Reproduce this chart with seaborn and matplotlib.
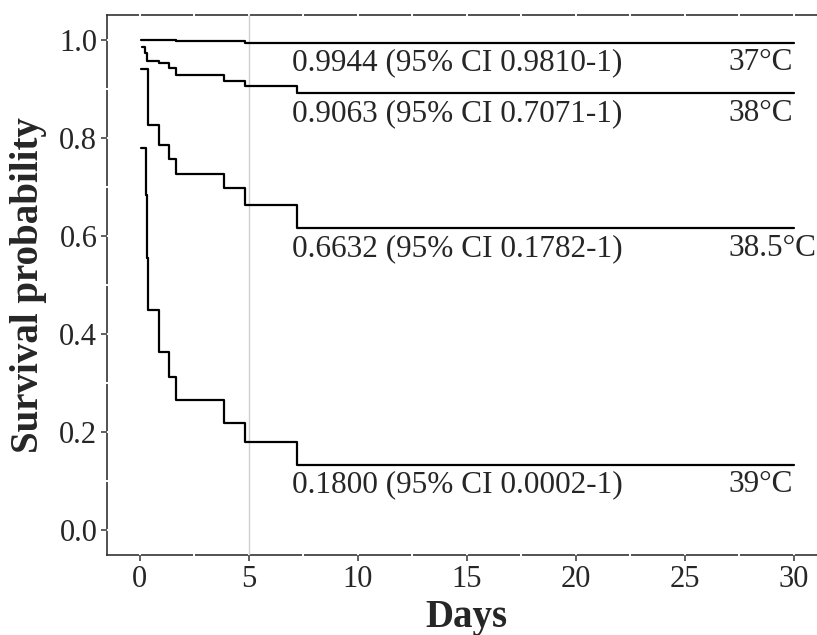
import numpy as np
import pandas as pd
import seaborn as sns
import matplotlib.pyplot as plt

# survival curves (days, survival probability)
t37 = [0.05, 1.67, 4.85, 30]
s37 = [0.999, 0.997, 0.9944, 0.9944]

t38 = [0.1, 0.26, 0.34, 0.87, 1.33, 1.67, 3.85, 4.85, 7.22, 30]
s38 = [0.986, 0.974, 0.957, 0.952, 0.942, 0.928, 0.915, 0.9063, 0.891, 0.891]

t385 = [0.05, 0.36, 0.87, 1.33, 1.67, 3.85, 4.85, 7.22, 30]
s385 = [0.941, 0.827, 0.785, 0.757, 0.727, 0.697, 0.6632, 0.616, 0.616]

t39 = [0.05, 0.3, 0.34, 0.4, 0.87, 1.33, 1.67, 3.85, 4.85, 7.22, 30]
s39 = [0.78, 0.683, 0.555, 0.449, 0.3645, 0.3137, 0.265, 0.22, 0.18, 0.134, 0.134]

temps = ["37°C", "38°C", "38.5°C", "39°C"]
ci_labels = [
    "0.9944 (95% CI 0.9810-1)",
    "0.9063 (95% CI 0.7071-1)",
    "0.6632 (95% CI 0.1782-1)",
    "0.1800 (95% CI 0.0002-1)",
]

curves = [(t37, s37), (t38, s38), (t385, s385), (t39, s39)]
df = pd.concat(
    [pd.DataFrame({"days": t, "surv": s, "temp": temp}) for (t, s), temp in zip(curves, temps)],
    ignore_index=True,
)

sns.set_style("white")
plt.rcParams["font.family"] = ["Liberation Serif", "DejaVu Serif"]

fig = plt.figure(figsize=(8.17, 6.35), dpi=100)
ax = fig.add_axes([0.131, 0.126, 0.8806, 0.850])

sns.lineplot(
    data=df, x="days", y="surv", units="temp", estimator=None,
    drawstyle="steps-post", color="black", lw=1.6, ax=ax, zorder=3, legend=False,
)

ax.set_xlim(-1.5, 31.5)
ax.set_ylim(-0.05, 1.05)

# white grid, only visible where it cuts the axis lines
for xv in np.arange(0, 31, 2.5):
    ax.axvline(xv, ymin=-0.006, ymax=1.006, color="white", lw=1.4, zorder=1, clip_on=False)
for yv in np.arange(0, 1.01, 0.1):
    ax.axhline(yv, xmin=-0.006, xmax=1.0, color="white", lw=1.4, zorder=1, clip_on=False)
ax.axvline(5, color="#cfcfcf", lw=1.0, zorder=1.5)

for sp in ["left", "bottom", "top"]:
    ax.spines[sp].set_color("#333333")
    ax.spines[sp].set_linewidth(1.2)
    ax.spines[sp].set_zorder(0.5)
ax.spines["right"].set_visible(False)
ax.set_axisbelow(False)

for (t, s), lab, temp in zip(curves, ci_labels, temps):
    ax.annotate(lab, (7.0, s[-1]), xytext=(0, -4), textcoords="offset points",
                ha="left", va="top", fontsize=22.5)
    ax.annotate(temp, (27.0, s[-1]), xytext=(0, -4), textcoords="offset points",
                ha="left", va="top", fontsize=22.5, annotation_clip=False)

ax.set_xticks(np.arange(0, 31, 5))
ax.set_yticks(np.arange(0, 1.01, 0.2))
ax.set_yticklabels([f"{v:.1f}" for v in np.arange(0, 1.01, 0.2)])
ax.tick_params(direction="out", length=4, width=1.1, color="#333333",
               labelsize=22, pad=3, bottom=True, left=True)

ax.set_xlabel("Days", fontsize=28, fontweight="bold", labelpad=4)
ax.set_ylabel("Survival probability", fontsize=28, fontweight="bold", labelpad=9)

fig.savefig("out.png", dpi=100)
